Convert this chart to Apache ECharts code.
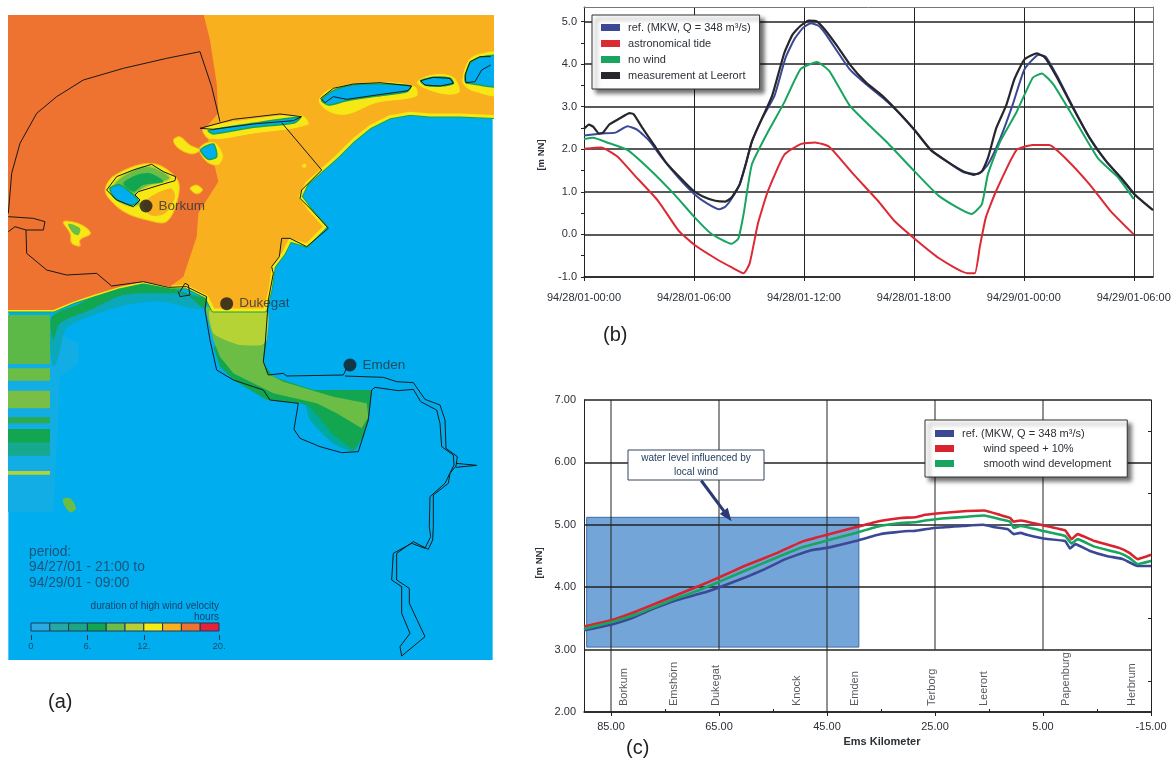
<!DOCTYPE html>
<html><head><meta charset="utf-8">
<style>html,body{margin:0;padding:0;background:#fff}#c{width:1174px;height:758px}</style>
<script src="https://cdn.jsdelivr.net/npm/echarts@6/dist/echarts.min.js"></script></head>
<body><div id="c"></div>
<script>
// ---------- panel (b): water level at Leerort [hour since 94/28/01-00:00, m NN]
const bTickHours=[0,6,12,18,24,30];
const bTickLabels=['94/28/01-00:00','94/28/01-06:00','94/28/01-12:00','94/28/01-18:00','94/29/01-00:00','94/29/01-06:00'];
const bMeasured=[[0,2.48],[.27,2.58],[.5,2.53],[.82,2.37],[1.04,2.39],[1.38,2.58],[1.93,2.72],[2.49,2.85],[2.71,2.82],[3.16,2.52],[3.82,2.10],[4.49,1.68],[5.16,1.37],[5.93,1.04],[6.49,.89],[7.16,.79],[7.71,.77],[8.04,.86],[8.49,1.17],[8.82,1.64],[9.16,2.18],[9.71,2.72],[10.27,3.26],[10.93,4.26],[11.38,4.69],[11.82,4.90],[12.27,5.02],[12.71,5.0],[13.16,4.80],[13.82,4.42],[14.49,4.0],[15.38,3.57],[16.27,3.26],[17.16,2.87],[18.04,2.45],[18.93,1.98],[19.82,1.71],[20.71,1.48],[21.27,1.40],[21.71,1.48],[22.04,1.79],[22.49,2.49],[23.04,3.03],[23.49,3.65],[24.04,4.11],[24.71,4.25],[25.16,4.15],[25.82,3.68],[26.71,2.95],[27.6,2.26],[28.49,1.72],[29.38,1.29],[30.04,.94],[31.05,.57]];
const bReference=[[0,2.32],[.93,2.37],[1.71,2.39],[2.38,2.54],[2.93,2.45],[3.6,2.18],[4.27,1.79],[5.16,1.33],[6.04,.94],[6.71,.73],[7.38,.59],[7.71,.65],[8.04,.83],[8.49,1.17],[8.82,1.64],[9.16,2.18],[9.71,2.72],[10.4,3.26],[11.0,4.15],[11.5,4.6],[11.95,4.85],[12.38,4.96],[12.8,4.9],[13.16,4.72],[14.49,3.88],[15.38,3.53],[16.27,3.22],[17.16,2.87],[18.04,2.45],[18.93,1.98],[19.82,1.71],[20.71,1.46],[21.5,1.42],[22.04,1.64],[22.71,2.25],[23.38,3.03],[24.04,3.88],[24.82,4.22],[25.2,4.17],[25.82,3.72],[26.71,2.97],[27.6,2.26],[28.49,1.72],[29.38,1.29],[30.04,.94]];
const bNoWind=[[0,2.24],[.49,2.27],[1.38,2.14],[2.38,1.98],[3.6,1.52],[4.93,.94],[6.04,.40],[6.93,.02],[8.04,-.22],[8.42,-.10],[8.71,.48],[9.16,1.64],[10.04,2.41],[10.93,3.10],[11.82,3.88],[12.71,4.05],[13.38,3.84],[14.49,3.03],[15.38,2.64],[16.49,2.18],[18.04,1.48],[19.38,.90],[21.16,.48],[21.71,.71],[22.04,1.41],[22.71,2.18],[23.6,2.87],[24.49,3.68],[24.98,3.78],[25.6,3.53],[26.49,2.91],[28.04,1.79],[29.16,1.33],[30.0,.83]];
const bTide=[[0,2.01],[.93,2.04],[1.82,1.83],[2.71,1.41],[4.04,.79],[5.16,.09],[6.04,-.25],[7.16,-.56],[8.04,-.77],[8.71,-.91],[9.04,-.68],[9.49,.25],[10.04,1.02],[10.93,1.87],[11.82,2.12],[12.6,2.16],[13.38,2.06],[14.71,1.41],[16.04,.79],[16.93,.32],[18.04,-.10],[19.38,-.56],[20.93,-.91],[21.33,-.91],[21.6,-.29],[21.93,.40],[22.49,1.02],[23.6,1.98],[24.49,2.10],[25.38,2.10],[26.27,1.79],[27.6,1.17],[28.71,.56],[30.0,0]];
// ---------- panel (c): longitudinal profile [Ems km, m NN]
const cTickKm=[85,65,45,25,5,-15];
const cMinorKm=[75,55,35,15,-5];
const cRef=[[90,3.31],[85,3.40],[81.6,3.49],[77,3.66],[73.3,3.78],[67.9,3.91],[64.9,4.0],[60.3,4.15],[56.5,4.29],[52.7,4.45],[48.1,4.59],[45,4.63],[39.7,4.74],[35.2,4.85],[29.8,4.90],[29,4.90],[25.2,4.95],[19.9,4.98],[16.1,5.0],[13.8,4.96],[11.5,4.93],[10.4,4.85],[9.2,4.87],[8,4.84],[4.9,4.78],[.9,4.74],[0,4.62],[-1,4.69],[-3.7,4.58],[-6.8,4.5],[-9.8,4.45],[-12.5,4.34],[-15,4.34]];
const cWind=[[90,3.37],[85,3.47],[80.1,3.62],[73.3,3.86],[68.7,4.02],[64.9,4.16],[60.3,4.34],[54.2,4.55],[49.6,4.73],[45,4.84],[39.7,4.96],[35.2,5.06],[31.3,5.11],[28.7,5.12],[26.8,5.16],[23.7,5.19],[19.1,5.22],[15.9,5.23],[13,5.16],[11.1,5.11],[10.4,5.05],[9.2,5.07],[4.9,4.99],[.9,4.91],[-.3,4.77],[-1.4,4.85],[-4.5,4.74],[-9.1,4.63],[-11,4.55],[-12.5,4.45],[-15,4.52]];
const cSmooth=[[90,3.33],[85,3.44],[80.1,3.57],[73.3,3.81],[68.7,3.95],[64.9,4.09],[60.3,4.26],[54.2,4.48],[49.6,4.64],[45,4.75],[39.7,4.87],[35.2,4.98],[31.3,5.03],[28.7,5.04],[26.8,5.07],[23.7,5.10],[19.1,5.13],[15.9,5.15],[13,5.09],[11.1,5.05],[10.4,4.95],[9.2,4.98],[4.9,4.90],[.9,4.82],[-.3,4.70],[-1.4,4.77],[-4.5,4.65],[-9.1,4.55],[-11,4.47],[-12.5,4.37],[-15,4.42]];
const cPlaces=[['Borkum',82.6],['Emshörn',73.3],['Dukegat',65.5],['Knock',50.6],['Emden',39.9],['Terborg',25.6],['Leerort',15.9],['Papenburg',.8],['Herbrum',-11.5]];
const cWindBox=[89.5,39.1,3.04,5.12];
const cArrow=[[68.3,5.71],[63.4,5.14]];
// ---------- panel (a): map geometry in map units
const amberSea=[[0,0],[1500,0],[1500,350],[1380,345],[1290,345],[1230,340],[1170,350],[1110,380],[1060,420],[1010,470],[965,510],[920,550],[900,590],[930,630],[975,680],[920,735],[870,720],[850,760],[820,800],[810,870],[795,930],[640,930],[620,890],[560,860],[510,860],[430,845],[360,860],[280,885],[220,905],[160,930],[0,930]];
const orangeSea=[[0,0],[600,0],[630,120],[650,250],[655,340],[615,385],[630,440],[640,480],[655,545],[620,600],[595,640],[590,710],[570,770],[550,830],[510,860],[430,845],[360,860],[280,885],[220,905],[160,930],[0,930]];
const coastTeal=[[150,1020],[165,960],[260,920],[360,880],[480,875],[560,885],[615,925],[580,925],[480,905],[380,915],[280,945],[200,985],[175,1070],[160,1100]];
const coastGreen=[[155,950],[230,915],[340,865],[430,850],[505,862],[560,880],[620,900],[612,925],[560,885],[480,880],[370,885],[270,930],[180,970],[160,1020]];
const stripHalo=[[0,950],[160,950],[190,1010],[235,1030],[235,1090],[180,1130],[160,1535],[0,1535]];
const stripBands=[[945,1092],[1105,1142],[1172,1225],[1252,1270],[1287,1328],[1328,1367],[1413,1424]];
const estTeal=[[920,1210],[930,1260],[1000,1330],[1060,1355],[1085,1310],[1000,1240]];
const estDark=[[640,1040],[660,1100],[700,1140],[800,1200],[900,1210],[930,1220],[1000,1305],[1060,1350],[1090,1310],[1105,1260],[1115,1170],[940,1170],[820,1130],[790,1090],[800,1020]];
const estMid=[[615,920],[640,1020],[660,1070],[700,1120],[820,1180],[950,1210],[1010,1240],[1085,1285],[1105,1250],[1100,1210],[1000,1190],[850,1145],[800,1120],[790,1080],[800,930]];
const estLime=[[630,930],[800,930],[800,1020],[785,1035],[720,1035],[675,1020],[640,1000]];
const islandHalos=[
 [[610,385],[760,355],[905,345],[925,375],[760,402],[630,418]],
 [[955,300],[1000,262],[1140,245],[1245,258],[1250,290],[1130,310],[1040,345],[985,335]],
 [[1250,245],[1300,222],[1360,230],[1380,275],[1340,285],[1270,265]],
 [[1385,240],[1405,180],[1440,160],[1500,160],[1500,285],[1420,275],[1395,260]],
 [[315,570],[345,525],[455,490],[530,535],[535,590],[500,665],[440,660],[380,640],[340,610]],
 [[598,445],[640,425],[670,465],[655,495],[620,485]],
 [[520,420],[540,410],[570,435],[600,450],[575,462],[535,445]],
 [[570,565],[590,555],[608,570],[590,582]],
 [[190,665],[240,672],[272,700],[240,720],[240,738],[215,730],[210,700]],
 [[905,495],[918,490],[918,503],[908,503]]];
const borkumAmber=[[430,610],[510,565],[525,590],[495,640],[450,645]];
const borkumMid=[[340,555],[400,510],[455,500],[510,535],[440,560],[405,585],[420,610],[395,620],[345,595]];
const borkumDark=[[370,550],[410,525],[450,520],[490,545],[430,555],[400,575]];
const blobGreens=[[[205,672],[240,685],[235,705],[220,700]],[[188,1500],[210,1495],[228,1525],[210,1537]]];
const islandCores=[
 [[625,392],[760,370],[900,352],[885,368],[760,382],[640,402]],
 [[965,300],[1000,272],[1060,255],[1140,252],[1232,258],[1220,275],[1130,288],[1040,302],[985,315]],
 [[1262,242],[1300,232],[1350,235],[1360,250],[1320,258],[1275,255]],
 [[1395,235],[1410,190],[1440,172],[1500,170],[1500,258],[1420,252],[1398,248]],
 [[330,565],[360,555],[400,585],[415,605],[390,615],[345,595]],
 [[602,450],[640,432],[650,470],[625,478]]];
const mapOutlines=[
 [[25,640],[35,520],[60,430],[110,340],[170,290],[250,240],[370,205],[500,175],[600,155],[635,260],[660,365]],
 [[845,368],[965,510],[905,570],[900,595],[935,630],[985,685],[920,740],[870,715],[845,715],[838,770],[815,800],[820,820],[805,900],[795,1040],[790,1085],[805,1125],[850,1120],[860,1128],[1030,1125],[1040,1105]],
 [[1035,1128],[1150,1132],[1190,1145],[1240,1148],[1275,1198],[1320,1215],[1335,1260],[1338,1345],[1372,1370],[1368,1398],[1350,1420],[1345,1450],[1300,1485],[1300,1580],[1298,1620],[1285,1648],[1240,1625],[1190,1660],[1190,1740],[1228,1765],[1228,1810],[1275,1910],[1205,1968]],
 [[1115,1170],[1125,1162],[1195,1172],[1240,1168],[1262,1205],[1310,1230],[1320,1270],[1325,1340],[1360,1365],[1362,1395],[1335,1450],[1290,1490],[1288,1580],[1292,1610],[1275,1645],[1235,1630],[1180,1660],[1175,1740],[1205,1760],[1205,1840],[1230,1900],[1200,1940],[1205,1968]],
 [[1368,1390],[1430,1396],[1368,1402]],
 [[1115,1170],[1105,1260],[1075,1355],[1025,1358],[960,1340],[900,1315],[882,1288],[895,1210],[810,1200],[790,1170],[700,1140],[650,1110],[630,1020],[615,930],[620,890],[560,860],[505,862],[430,845],[335,858],[290,820],[200,825],[140,810],[80,760],[78,690],[130,690],[135,665],[100,655],[25,650]],
 [[25,695],[45,680],[78,690]],
 [[540,875],[555,850],[565,855],[570,885],[540,890],[535,875]],
 [[600,385],[700,358],[840,342],[905,350],[880,362],[760,372],[640,388],[600,385]],
 [[962,295],[1000,265],[1060,252],[1140,248],[1235,258],[1225,272],[1130,285],[1040,298],[1000,290],[975,308],[962,295]],
 [[1262,242],[1300,232],[1350,235],[1360,250],[1320,258],[1275,255],[1262,242]],
 [[1472,170],[1440,170],[1410,185],[1395,225],[1398,248],[1425,245],[1445,210],[1472,195]],
 [[320,570],[350,530],[400,510],[455,493],[490,515],[527,530],[525,542],[480,555],[415,575],[405,585],[420,600],[400,620],[350,600],[320,570]]];
const mapPlaces=[['Borkum',438,618],['Dukegat',680,911],['Emden',1050,1095]];
const durationBins=[0,2,4,6,8,10,12,14,16,18,20];
const durationTicks=[0,6,12,20];
const durationLabels=['0','6.','12.','20.'];
const periodLines=['period:','94/27/01 - 21:00 to','94/29/01 - 09:00'];

const F='"Liberation Sans",Arial,sans-serif';
const BLUE='#00aeef',AMBER='#f9b01f',ORANGE='#ee7230',YEL='#f7e815',LIME='#b5d334',MID='#6cbd45',DARK='#12a650',TEAL='#00a99d';
const binColors=['#29abe2','#25a9a0','#1fa586','#12a650','#6cbd45','#b9cf36','#f7ec13','#f9b11f','#ef7330','#e6213a'];
const bandColors=['#5cb947','#6cbd45','#79bf45','#2bab4d','#12a650','#17a98e','#b5d334'];
const INK='#2b3036';

const L=[];
const add=(pts,fill,stroke,lw,sm)=>L.push({pts,fill,stroke,lw,sm});
add(stripHalo,'#12ade4');
stripBands.forEach((b,i)=>add([[0,b[0]],[150,b[0]],[150,b[1]],[0,b[1]]],bandColors[i]));
add(coastTeal,'#0aa8b8',null,0,.3);add(coastGreen,DARK,null,0,.3);
add(estTeal,TEAL,null,0,.2);add(estDark,DARK);add(estMid,MID);add(estLime,LIME,null,0,.2);
add(amberSea,AMBER,DARK,5);add(amberSea,AMBER,YEL,3);
add(orangeSea,ORANGE);
islandHalos.forEach(h=>add(h,YEL,AMBER,1,.35));
add(borkumAmber,AMBER,null,0,.35);add(borkumMid,MID,'#b5d334',1.5,.3);add(borkumDark,DARK,null,0,.3);
blobGreens.forEach(h=>add(h,MID,null,0,.35));
islandCores.forEach(h=>add(h,BLUE,DARK,1.5,.25));
const lineLayers=mapOutlines.map(p=>({pts:p,line:true}));
const mapLayers=L.concat(lineLayers);

function renderMap(params,api){
  const l=mapLayers[params.dataIndex];
  const points=l.pts.map(p=>api.coord(p));
  if(l.line) return {type:'polyline',shape:{points},style:{fill:null,stroke:'#17191c',lineWidth:1}};
  return {type:'polygon',shape:{points,smooth:l.sm||0},style:{fill:l.fill,stroke:l.stroke||null,lineWidth:l.lw||0,lineJoin:'round'}};
}
function renderBins(params,api){
  const i=params.dataIndex;
  const a=api.coord([durationBins[i],1]),b=api.coord([durationBins[i+1],0]);
  return {type:'rect',shape:{x:a[0],y:a[1],width:b[0]-a[0],height:b[1]-a[1]},style:{fill:binColors[i],stroke:'#1b3a5c',lineWidth:1}};
}
function renderBox(params,api){
  const a=api.coord([cWindBox[0],cWindBox[3]]),b=api.coord([cWindBox[1],cWindBox[2]]);
  return {type:'rect',shape:{x:a[0],y:a[1],width:b[0]-a[0],height:b[1]-a[1]},style:{fill:'#74a5d9',stroke:'#3f6ca6',lineWidth:1}};
}
const lbl={color:INK,fontFamily:F,fontSize:11};
const dark={lineStyle:{color:'#222',width:1.5}};
const thin={lineStyle:{color:'#222',width:1}};
const cLine=(name,data,color)=>({name,type:'line',xAxisIndex:1,yAxisIndex:2,data,showSymbol:false,smooth:.1,lineStyle:{color,width:2.6},itemStyle:{color},z:5});
const bLine=(name,data,color,w)=>({name,type:'line',xAxisIndex:0,yAxisIndex:0,data,showSymbol:false,smooth:.16,lineStyle:{color,width:w},itemStyle:{color},z:5});
const vert=(km,y0)=>({type:'line',xAxisIndex:1,yAxisIndex:2,data:[[km,y0],[km,7]],showSymbol:false,lineStyle:{color:'#222',width:1},z:1,silent:true});
const REF=' ref. (MKW, Q = 348 m³/s)',WS='        wind speed + 10%',SW='        smooth wind development';
const legendBase={orient:'vertical',icon:'rect',itemWidth:19,itemHeight:7,backgroundColor:'#fff',borderColor:'#333',borderWidth:1,
  shadowColor:'rgba(0,0,0,.55)',shadowBlur:4,shadowOffsetX:4,shadowOffsetY:4,textStyle:{...lbl},selectedMode:false,z:20};
const text=(t,x,y,o)=>({type:'text',x,y,z:30,style:{text:t,fill:INK,font:`10px ${F}`,...o}});
const noZero={onZero:false};

const option={
 animation:false,backgroundColor:'#fff',
 grid:[
  {left:584,top:7,width:569,height:270},
  {left:584,top:400,width:567,height:312},
  {left:8.33,top:15,width:484.33,height:645},
  {left:31,top:623,width:188,height:8}],
 xAxis:[
  {gridIndex:0,type:'value',min:0,max:31.05,axisLine:{...noZero,lineStyle:{color:'#222',width:1.5}},
   axisTick:{customValues:bTickHours,length:4,lineStyle:{color:'#222'}},
   axisLabel:{...lbl,customValues:bTickHours,margin:15,formatter:v=>bTickLabels[bTickHours.indexOf(v)]},
   splitLine:{show:true,...thin}},
  {gridIndex:1,type:'value',inverse:true,min:-15,max:90,axisLine:{...noZero,lineStyle:{color:'#222',width:1.5}},
   axisTick:{customValues:cTickKm,length:4,lineStyle:{color:'#222'}},
   axisLabel:{...lbl,customValues:cTickKm,margin:9,formatter:v=>v.toFixed(2)},
   splitLine:{show:false}},
  {gridIndex:1,type:'value',inverse:true,min:-15,max:90,position:'bottom',axisLine:{show:false,...noZero},
   axisTick:{customValues:cMinorKm,length:3,inside:true,lineStyle:{color:'#222'}},axisLabel:{show:false},splitLine:{show:false}},
  {gridIndex:2,type:'value',min:25,max:1478,show:false},
  {gridIndex:3,type:'value',min:0,max:20,offset:4,axisLine:{show:false,...noZero},
   axisTick:{customValues:durationTicks,length:5,lineStyle:{color:'#1b3a5c'}},
   axisLabel:{customValues:durationTicks,color:'#1b4a6e',fontFamily:F,fontSize:9.5,margin:6,formatter:v=>durationLabels[durationTicks.indexOf(v)]},
   splitLine:{show:false}},
  {gridIndex:0,type:'value',min:0,max:31.05,position:'top',axisLine:{...noZero,lineStyle:{color:'#777',width:1}},axisTick:{show:false},axisLabel:{show:false},splitLine:{show:false}}
 ],
 yAxis:[
  {gridIndex:0,type:'value',min:-1,max:5.34,axisLine:{show:true,...noZero,lineStyle:{color:'#222',width:1}},
   axisTick:{customValues:[-1,0,1,2,3,4,5],length:3,lineStyle:{color:'#222'}},
   axisLabel:{...lbl,customValues:[-1,0,1,2,3,4,5],margin:7,formatter:v=>v.toFixed(1)},
   splitLine:{show:true,...dark}},
  {gridIndex:0,type:'value',min:-1,max:5.34,position:'left',axisLine:{show:false,...noZero},
   axisTick:{customValues:[-.5,.5,1.5,2.5,3.5,4.5],length:3,lineStyle:{color:'#222'}},axisLabel:{show:false},splitLine:{show:false}},
  {gridIndex:1,type:'value',min:2,max:7,interval:1,axisLine:{show:true,...noZero,lineStyle:{color:'#222',width:1}},axisTick:{show:false},
   axisLabel:{...lbl,margin:8,formatter:v=>v.toFixed(2)},splitLine:{show:true,...dark}},
  {gridIndex:1,type:'value',min:2,max:7,position:'right',axisLine:{show:true,...noZero,lineStyle:{color:'#222'}},
   axisTick:{customValues:[2.5,3.5,5.5,6.5],inside:true,length:3,lineStyle:{color:'#222'}},axisLabel:{show:false},splitLine:{show:false}},
  {gridIndex:2,type:'value',inverse:true,min:45,max:1980,show:false},
  {gridIndex:3,type:'value',min:0,max:1,show:false},
  {gridIndex:0,type:'value',min:-1,max:5.34,position:'right',axisLine:{show:true,...noZero,lineStyle:{color:'#777',width:1}},axisTick:{show:false},axisLabel:{show:false},splitLine:{show:false}}
 ],
 legend:[
  {...legendBase,left:592,top:15,padding:[7,9,8,9],itemGap:5,data:[REF,' astronomical tide',' no wind',' measurement at Leerort']},
  {...legendBase,left:925,top:420,padding:[8,16,8,10],itemGap:4,data:[REF,WS,SW]}
 ],
 graphic:[
  {type:'rect',x:8.33,y:15,z:-10,shape:{width:484.33,height:645},style:{fill:BLUE}},
  ...periodLines.map((t,i)=>text(t,29,[545,560,576][i],{font:`13.8px ${F}`,fill:'#1c5379'})),
  text('duration of high wind velocity',219,601,{font:`10px ${F}`,fill:'#17406a',align:'right'}),
  text('hours',219,612,{font:`10px ${F}`,fill:'#17406a',align:'right'}),
  text('(a)',48,692,{font:`20px ${F}`,fill:'#222'}),
  text('(b)',603,325,{font:`20px ${F}`,fill:'#222'}),
  text('(c)',626,738,{font:`20px ${F}`,fill:'#222'}),
  {type:'rect',x:628,y:450,z:30,shape:{width:136,height:30},style:{fill:'#fff',stroke:'#33475e',lineWidth:1}},
  text('water level influenced by',696,453,{font:`10px ${F}`,fill:'#274060',align:'center'}),
  text('local wind',696,467,{font:`10px ${F}`,fill:'#274060',align:'center'}),
  {type:'text',x:541,y:155,rotation:Math.PI/2,z:30,style:{text:'[m NN]',font:`bold 9.5px ${F}`,fill:INK,align:'center',verticalAlign:'middle'}},
  {type:'text',x:539,y:563,rotation:Math.PI/2,z:30,style:{text:'[m NN]',font:`bold 9.5px ${F}`,fill:INK,align:'center',verticalAlign:'middle'}},
  text('Ems Kilometer',882,736,{font:`bold 11px ${F}`,align:'center'})
 ],
 series:[
  {type:'custom',xAxisIndex:3,yAxisIndex:4,coordinateSystem:'cartesian2d',clip:true,silent:true,renderItem:renderMap,data:mapLayers.map((_,i)=>[i,i]),z:2},
  {type:'scatter',xAxisIndex:3,yAxisIndex:4,symbolSize:13,itemStyle:{color:'#15181b'},z:6,data:mapPlaces.map(p=>({name:p[0],value:[p[1],p[2]]})),
   label:{show:true,position:'right',distance:6,formatter:'{b}',fontFamily:F,fontSize:13.5,color:'#24323c'}},
  {type:'custom',xAxisIndex:4,yAxisIndex:5,coordinateSystem:'cartesian2d',silent:true,renderItem:renderBins,data:binColors.map((_,i)=>[durationBins[i],.5]),z:6},
  bLine(REF,bReference,'#3a4896',2),
  bLine(' astronomical tide',bTide,'#dc2a35',2),
  bLine(' no wind',bNoWind,'#17a55f',2),
  bLine(' measurement at Leerort',bMeasured,'#26262c',2.2),
  {type:'custom',xAxisIndex:1,yAxisIndex:2,coordinateSystem:'cartesian2d',silent:true,renderItem:renderBox,data:[[cWindBox[0],cWindBox[2]]],z:-1},
  vert(85,2),vert(65,3),vert(45,2),vert(25,3),vert(5,3),
  cLine(REF,cRef,'#3a4896'),
  cLine(WS,cWind,'#d9232f'),
  cLine(SW,cSmooth,'#17a55f'),
  {type:'scatter',xAxisIndex:1,yAxisIndex:2,symbolSize:0,z:8,silent:true,data:cPlaces.map(p=>({name:p[0],value:[p[1],2.08]})),
   label:{show:true,position:'inside',formatter:'{b}',rotate:90,align:'left',verticalAlign:'middle',fontFamily:F,fontSize:11,color:INK,backgroundColor:'#fff',padding:[0,1,0,1]}},
  {type:'line',xAxisIndex:1,yAxisIndex:2,data:cArrow,showSymbol:false,silent:true,z:9,lineStyle:{color:'#2b3a75',width:3},
   markPoint:{symbol:'triangle',symbolSize:[10,13],symbolRotate:217,silent:true,itemStyle:{color:'#2b3a75'},label:{show:false},data:[{coord:cArrow[1]}]}}
 ]
};
echarts.init(document.getElementById('c'),null,{renderer:'canvas'}).setOption(option);
</script></body></html>
